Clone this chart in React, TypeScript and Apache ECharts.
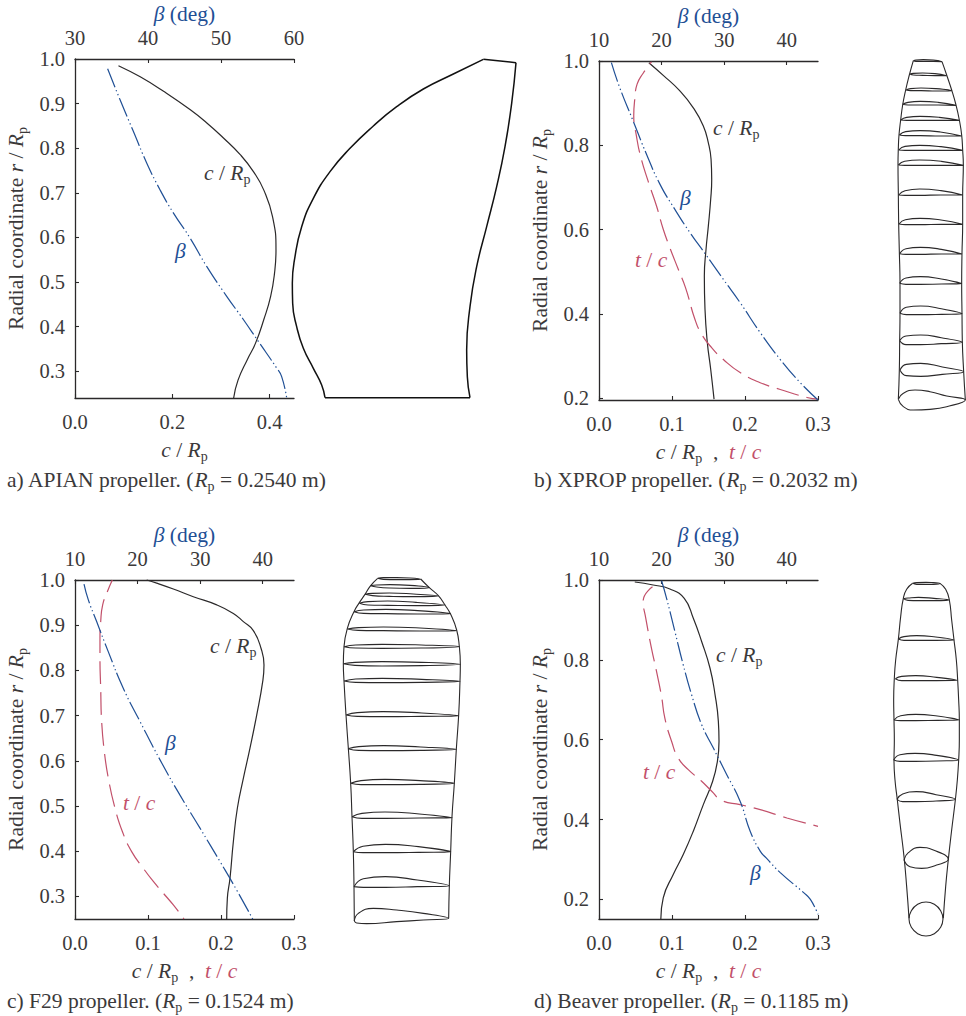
import React, { useEffect, useRef } from "react";
import * as echarts from "echarts";

type P = number[];
const INK = "#2b292a", BLUE = "#1f4f95", RED = "#c2506a", TXT = "#3b393a";
const FONT = "Liberation Serif";
const FS = 21.5;
const TICK_FS = 20.5;

// ---- panel a (APIAN)
const aChord: P[] = [[.0893,.985],[.134,.96],[.182,.9275],[.237,.886],[.2715,.856],[.305,.823],[.34,.785],[.367,.747],[.388,.706],[.406,.646],[.413,.572],[.41,.52],[.402,.468],[.388,.416],[.371,.363],[.354,.326],[.335,.28],[.326,.24]];
const aBeta: P[] = [[34.47,.978],[36.16,.909],[37.99,.838],[39.82,.767],[41.64,.707],[43.47,.655],[45.75,.599],[48.04,.535],[50.78,.468],[53.06,.416],[55.11,.367],[57.63,.307],[58.31,.288],[59,.24]];
// ---- panel b (XPROP)
const bChord: P[] = [[.0683,.996],[.088,.966],[.1108,.929],[.1292,.889],[.1429,.846],[.1498,.806],[.1535,.767],[.1544,.719],[.153,.672],[.1498,.609],[.1466,.553],[.1443,.49],[.1452,.411],[.1484,.332],[.153,.269],[.1576,.198]];
const bThick: P[] = [[.0719,.998],[.0605,.971],[.0522,.945],[.049,.909],[.0476,.87],[.0513,.822],[.0568,.775],[.0673,.715],[.0788,.656],[.088,.601],[.0971,.557],[.1086,.506],[.1186,.462],[.1315,.387],[.1406,.352],[.1544,.32],[.1704,.292],[.1933,.261],[.2208,.237],[.2483,.221],[.2849,.202],[.3,.198]];
const bBeta: P[] = [[11.98,.996],[13.31,.937],[15.45,.858],[17.59,.779],[19.73,.708],[22.13,.648],[24.54,.593],[27.21,.538],[29.88,.482],[32.55,.427],[35.76,.356],[38.97,.292],[42.17,.237],[45,.196]];
// ---- panel c (F29)
const cChord: P[] = [[.0982,1],[.1119,.993],[.1347,.98],[.1621,.963],[.1941,.945],[.2169,.926],[.2306,.908],[.2443,.888],[.2548,.849],[.2589,.812],[.2571,.775],[.2489,.701],[.2397,.628],[.2306,.561],[.2224,.495],[.2169,.421],[.2123,.34],[.2087,.296],[.2078,.25]];
const cThick: P[] = [[.0511,1],[.0443,.974],[.0379,.945],[.0352,.908],[.0342,.871],[.0342,.827],[.0352,.76],[.0365,.687],[.0402,.62],[.0457,.561],[.0548,.495],[.065,.443],[.0776,.399],[.0936,.362],[.1073,.333],[.121,.307],[.1347,.281],[.1493,.25]];
const cBeta: P[] = [[11.44,.991],[12.13,.956],[13.46,.908],[15.33,.841],[17.73,.76],[20.39,.687],[23.59,.602],[26.78,.524],[29.98,.451],[33.18,.377],[35.84,.314],[38.4,.25]];
// ---- panel d (Beaver)
const dChord: P[] = [[.049,.995],[.0742,.9875],[.0971,.9775],[.1168,.954],[.1292,.904],[.1406,.846],[.1521,.779],[.159,.7125],[.1635,.646],[.1644,.596],[.1622,.546],[.1557,.496],[.1429,.4375],[.1292,.371],[.1154,.3125],[.1017,.2625],[.088,.204],[.0847,.151]];
const dThick: P[] = [[.0733,.983],[.0605,.9475],[.0641,.904],[.0719,.829],[.0788,.771],[.0857,.708],[.0902,.654],[.0994,.596],[.1086,.554],[.1223,.525],[.1406,.496],[.1544,.471],[.1681,.448],[.1933,.4375],[.2208,.425],[.2574,.404],[.3,.383]];
const dBeta: P[] = [[20,.998],[20.8,.954],[22.13,.871],[23.47,.787],[24.8,.7125],[26.41,.6375],[28.28,.579],[30.42,.5125],[32.55,.446],[34.16,.371],[35.76,.321],[36.72,.304],[38.97,.267],[42.71,.217],[43.78,.2],[45,.1625]];

// ---- blade outlines (drawing units of each blade's own box)
const bladeAOutline: P[] = [[135,1043],[125,1005],[100,955],[70,895],[50,830],[38,760],[37,700],[45,620],[65,530],[100,445],[150,365],[210,295],[280,228],[350,170],[430,117],[520,72],[610,28]];
const bladeATip: P[] = [[610,28],[708,38]];
const bladeARight: P[] = [[708,38],[695,160],[675,290],[650,410],[620,530],[590,650],[570,770],[560,900],[562,980],[570,1043]];
const bladeARoot: P[] = [[570,1043],[135,1043]];

const bladeBLeft: P[] = [[100,62],[88,105],[77,150],[68,195],[62,240],[57,285],[55,325],[54,375],[55,460],[56,550],[58,635],[60,730],[60,820],[59,905],[58,990],[55,1078]];
const bladeBRight: P[] = [[186,65],[200,105],[215,150],[228,195],[238,240],[245,285],[248,330],[250,375],[248,465],[248,550],[246,640],[245,730],[246,820],[247,905],[251,995],[256,1080]];
const bladeBSections: P[][] = [
  [[100,62],[108,60],[130,59],[160,60],[186,65],[160,64],[130,64],[108,64],[100,62]],
  [[90,102],[100,100],[128,99],[165,101],[200,107],[165,107],[128,106],[100,105],[90,102]],
  [[78,150],[92,146],[123,144],[168,146],[215,152],[168,153],[123,152],[92,152],[78,150]],
  [[68,193],[84,187],[121,184],[174,187],[228,196],[174,195],[121,195],[84,195],[68,193]],
  [[62,240],[80,232],[120,229],[178,232],[238,241],[178,241],[120,241],[80,241],[62,240]],
  [[58,285],[77,275],[120,272],[181,276],[245,288],[181,288],[120,287],[77,287],[58,285]],
  [[56,330],[75,319],[119,316],[183,320],[248,331],[183,331],[119,331],[75,331],[56,330]],
  [[55,375],[74,364],[119,360],[184,364],[250,376],[184,376],[119,376],[74,376],[55,375]],
  [[56,465],[75,452],[119,447],[183,452],[248,465],[183,465],[119,466],[75,466],[56,465]],
  [[57,552],[76,539],[120,535],[183,540],[248,553],[183,553],[120,554],[76,554],[57,552]],
  [[59,641],[78,626],[121,622],[184,628],[246,642],[184,642],[121,643],[78,643],[59,641]],
  [[59,730],[78,714],[121,710],[184,717],[245,731],[184,732],[121,733],[78,733],[59,730]],
  [[60,820],[79,802],[122,798],[184,806],[246,821],[184,823],[122,824],[79,824],[60,820]],
  [[59,902],[78,888],[122,885],[184,893],[247,907],[184,911],[122,914],[78,914],[59,902]],
  [[60,990],[79,973],[122,970],[187,981],[251,995],[187,1003],[122,1009],[79,1007],[60,990]],
  [[55,1078],[70,1060],[105,1050],[150,1055],[200,1068],[256,1080],[200,1100],[150,1108],[100,1110],[70,1100],[55,1078]],
];

const bladeCLeft: P[] = [[143,40],[122,62],[105,88],[88,113],[72,140],[52,190],[42,245],[40,297],[42,348],[48,450],[55,550],[62,655],[66,755],[70,860],[72,965],[73,1068]];
const bladeCRight: P[] = [[272,42],[298,68],[325,92],[345,120],[362,148],[380,195],[388,245],[391,297],[390,348],[386,450],[379,552],[373,655],[366,755],[362,860],[358,962],[356,1060]];
const bladeCSections: P[][] = [
  [[143,40],[160,38],[200,38],[240,39],[272,43],[240,44],[200,44],[160,43],[143,40]],
  [[122,62],[140,60],[180,59],[240,61],[298,68],[240,70],[180,69],[140,66],[122,62]],
  [[105,88],[127,85],[178,84],[250,87],[325,93],[250,95],[178,94],[127,92],[105,88]],
  [[88,115],[114,110],[173,108],[258,112],[345,120],[258,122],[173,121],[114,120],[88,115]],
  [[72,140],[101,135],[168,133],[263,137],[362,146],[263,147],[168,146],[101,145],[72,140]],
  [[52,192],[85,188],[160,186],[270,189],[380,197],[270,198],[160,197],[85,196],[52,192]],
  [[42,245],[77,240],[156,238],[274,240],[388,245],[274,249],[156,250],[77,249],[42,245]],
  [[40,296],[75,292],[156,290],[275,292],[391,298],[275,302],[156,303],[75,301],[40,296]],
  [[42,348],[77,342],[157,340],[275,343],[390,349],[275,352],[157,353],[77,352],[42,348]],
  [[48,450],[82,443],[160,440],[275,444],[386,452],[275,454],[160,455],[82,454],[48,450]],
  [[54,551],[86,545],[161,542],[272,546],[379,553],[272,556],[161,557],[86,556],[54,551]],
  [[62,655],[93,647],[165,643],[270,647],[373,655],[270,658],[165,659],[93,659],[62,655]],
  [[66,755],[96,745],[165,741],[268,747],[366,758],[268,759],[165,760],[96,760],[66,755]],
  [[70,860],[99,844],[166,838],[265,845],[362,860],[265,862],[166,863],[99,863],[70,860]],
  [[72,965],[100,941],[166,935],[262,945],[358,962],[262,965],[166,967],[100,967],[72,965]],
  [[73,1068],[85,1045],[130,1030],[200,1035],[280,1045],[356,1060],[280,1065],[200,1070],[110,1076],[80,1074],[73,1068]],
];

const bladeDLeft: P[] = [[98,40],[80,58],[70,85],[62,140],[55,208],[47,270],[43,325],[41,390],[42,450],[43,510],[42,570],[45,630],[52,690],[60,760],[72,860],[80,950],[87,1045]];
const bladeDRight: P[] = [[180,40],[197,58],[208,90],[215,150],[222,210],[229,270],[233,330],[236,390],[238,450],[238,510],[236,570],[232,630],[226,690],[215,780],[205,868],[197,950],[190,1045]];
const bladeDSections: P[][] = [
  [[98,40],[110,38],[138,37],[160,38],[180,40],[160,43],[138,43],[110,43],[98,40]],
  [[70,86],[84,84],[115,82],[162,85],[208,90],[162,92],[115,92],[84,91],[70,86]],
  [[55,207],[72,200],[110,197],[167,201],[222,210],[167,211],[110,211],[72,211],[55,207]],
  [[46,326],[65,319],[107,317],[170,322],[232,331],[170,332],[107,332],[65,332],[46,326]],
  [[42,450],[62,437],[107,433],[172,438],[238,450],[172,451],[107,452],[62,452],[42,450]],
  [[41,570],[60,554],[105,550],[170,556],[236,570],[170,573],[105,574],[60,574],[41,570]],
  [[51,688],[68,672],[109,665],[168,674],[226,688],[168,693],[109,695],[68,695],[51,688]],
  [[72,870],[85,848],[120,832],[160,840],[205,868],[170,885],[125,895],[90,890],[72,870]],
  [[189,1047],[182,1072],[163,1091],[138,1098],[113,1091],[94,1072],[87,1047],[94,1022],[113,1003],[138,996],[163,1003],[182,1022],[189,1047]],
];

const rTicks = [[.3,.4,.5,.6,.7,.8,.9,1],[.2,.4,.6,.8,1],[.3,.4,.5,.6,.7,.8,.9,1],[.2,.4,.6,.8,1]];
const chordTicks = [[0,.2,.4],[0,.1,.2,.3],[0,.1,.2,.3],[0,.1,.2,.3]];
const betaTicks = [[30,40,50,60],[10,20,30,40],[10,20,30,40],[10,20,30,40]];
const rMin = [.24,.196,.25,.151];
const chordMax = [.45,.3,.3,.3];
const betaMin = [30,10,10,10];
const betaMax = [60,45,45,45];
const captions = ["a) APIAN propeller. (", "b) XPROP propeller. (", "c) F29 propeller. (", "d) Beaver propeller. ("];
const radii = ["0.2540", "0.2032", "0.1524", "0.1185"];
const redDashOffsets = [0, 20, 10, 6];

const panelBoxes = [
  { left: 75, top: 59, width: 219, height: 339 },
  { left: 599, top: 61, width: 219, height: 339 },
  { left: 75, top: 580, width: 219, height: 339 },
  { left: 599, top: 580, width: 219, height: 339 },
];
const bladeBoxes = [
  { left: 280, top: 50, width: 250, height: 360, w: 750, h: 1080 },
  { left: 880, top: 40, width: 86, height: 380, w: 258, h: 1140 },
  { left: 330, top: 565, width: 140, height: 365, w: 420, h: 1095 },
  { left: 880, top: 570, width: 86, height: 380, w: 258, h: 1140 },
];

const richAxis = (color: string) => ({
  n: { fontFamily: FONT, fontSize: FS, color },
  i: { fontFamily: FONT, fontSize: FS, fontStyle: "italic", color },
  s: { fontFamily: FONT, fontSize: 14, color, padding: [12, 0, 0, 0] },
  r: { fontFamily: FONT, fontSize: FS, fontStyle: "italic", color: RED },
  rn: { fontFamily: FONT, fontSize: FS, color: RED },
});
const richG = (fill: string) => ({
  n: { fontFamily: FONT, fontSize: FS, fill },
  i: { fontFamily: FONT, fontSize: FS, fontStyle: "italic", fill },
  s: { fontFamily: FONT, fontSize: 14, fill, padding: [12, 0, 0, 0] },
});
const label = (x: number, y: number, text: string, fill: string) => ({
  type: "text", x, y, silent: true,
  style: { text, rich: richG(fill), fontFamily: FONT, fontSize: FS, fill, verticalAlign: "middle", align: "left" },
});
const CR = "{i|c}{n| / }{i|R}{s|p}";
const TC = "{i|t}{n| / }{i|c}";
const BT = "{i|β}";

const annotations = [
  label(204, 173, CR, TXT), label(175, 251, BT, BLUE),
  label(713, 128, CR, TXT), label(680, 198, BT, BLUE), label(635, 260, TC, RED),
  label(210, 646, CR, TXT), label(165, 743, BT, BLUE), label(123, 803, TC, RED),
  label(716, 655, CR, TXT), label(750, 873, BT, BLUE), label(643, 772, TC, RED),
];
const capPos = [[7, 480], [534, 480], [7, 1001], [534, 1001]];
const captionEls = captions.map((c, i) =>
  label(capPos[i][0], capPos[i][1], `{n|${c}}{i|R}{s|p}{n| = ${radii[i]} m)}`, TXT));

const line = (xi: number, yi: number, data: P[], color: string, type: any, width = 1.2, dashOffset = 0) => ({
  type: "line", xAxisIndex: xi, yAxisIndex: yi, data, symbol: "none", smooth: 0.5, silent: true,
  clip: false,
  lineStyle: { color, width, type, cap: "butt", dashOffset },
});
const DASHDOT = [20, 3, 1.3, 3, 1.3, 3];
const DASH = [23, 8];

function buildOption() {
  const grid: any[] = [...panelBoxes, ...bladeBoxes].map(({ left, top, width, height }) => ({ left, top, width, height, containLabel: false }));
  const xAxis: any[] = [];
  const yAxis: any[] = [];
  const axisLine = { show: true, onZero: false, lineStyle: { color: INK, width: 1.3 } };
  const labelStyle = { color: TXT, fontFamily: FONT, fontSize: TICK_FS };
  panelBoxes.forEach((_, i) => {
    const xName = i === 0 ? CR : `${CR}{n|  ,  }{r|t}{rn| / }{r|c}`;
    xAxis.push({
      gridIndex: i, type: "value", position: "bottom", min: 0, max: chordMax[i],
      axisLine, splitLine: { show: false },
      axisTick: { show: true, inside: true, length: 4, customValues: chordTicks[i], lineStyle: { color: INK, width: 1.1 } },
      axisLabel: { ...labelStyle, margin: 13, customValues: chordTicks[i], formatter: (v: number) => v.toFixed(1) },
      name: xName, nameLocation: "middle", nameGap: 39, nameTextStyle: { rich: richAxis(TXT) },
    });
    xAxis.push({
      gridIndex: i, type: "value", position: "top", min: betaMin[i], max: betaMax[i],
      axisLine, splitLine: { show: false },
      axisTick: { show: true, inside: true, length: 4, customValues: betaTicks[i], lineStyle: { color: INK, width: 1.1 } },
      axisLabel: { ...labelStyle, margin: 11, customValues: betaTicks[i], formatter: (v: number) => String(v) },
      name: `${BT}{n| (deg)}`, nameLocation: "middle", nameGap: 34, nameTextStyle: { rich: richAxis(BLUE) },
    });
    yAxis.push({
      gridIndex: i, type: "value", position: "left", min: rMin[i], max: 1,
      axisLine, splitLine: { show: false },
      axisTick: { show: true, inside: true, length: 4, customValues: rTicks[i], lineStyle: { color: INK, width: 1.1 } },
      axisLabel: { ...labelStyle, margin: 10, customValues: rTicks[i], formatter: (v: number) => v.toFixed(1) },
      name: `{n|Radial coordinate }{i|r}{n| / }{i|R}{s|p}`, nameLocation: "middle", nameGap: 46, nameRotate: 90,
      nameTextStyle: { rich: richAxis(TXT) },
    });
  });
  bladeBoxes.forEach((b, i) => {
    xAxis.push({ gridIndex: 4 + i, type: "value", show: false, min: 0, max: b.w });
    yAxis.push({ gridIndex: 4 + i, type: "value", show: false, min: 0, max: b.h, inverse: true });
  });
  const curves = [
    [aChord, null, aBeta], [bChord, bThick, bBeta], [cChord, cThick, cBeta], [dChord, dThick, dBeta],
  ];
  const series: any[] = [];
  curves.forEach(([ch, th, be], i) => {
    series.push(line(2 * i, i, ch as P[], INK, "solid"));
    if (th) series.push(line(2 * i, i, th as P[], RED, DASH, 1.2, redDashOffsets[i]));
    series.push(line(2 * i + 1, i, be as P[], BLUE, DASHDOT));
  });
  const bladeX = (i: number) => 8 + i;
  const bladeY = (i: number) => 4 + i;
  const B = 1.1;
  [bladeAOutline, bladeATip, bladeARight, bladeARoot].forEach((d) =>
    series.push(line(bladeX(0), bladeY(0), d, "#111", "solid", 1.5)));
  [bladeBLeft, bladeBRight, ...bladeBSections].forEach((d) =>
    series.push(line(bladeX(1), bladeY(1), d, INK, "solid", B)));
  [bladeCLeft, bladeCRight, ...bladeCSections].forEach((d) =>
    series.push(line(bladeX(2), bladeY(2), d, INK, "solid", B)));
  [bladeDLeft, bladeDRight, ...bladeDSections].forEach((d) =>
    series.push(line(bladeX(3), bladeY(3), d, INK, "solid", B)));
  return {
    animation: false,
    backgroundColor: "#fff",
    grid, xAxis, yAxis, series,
    graphic: { elements: [...annotations, ...captionEls] },
  };
}

export default function App() {
  const ref = useRef<HTMLDivElement>(null);
  useEffect(() => {
    document.body.style.margin = "0";
    const chart = echarts.init(ref.current!, undefined, { renderer: "svg", width: 966, height: 1016 });
    chart.setOption(buildOption() as any);
    return () => chart.dispose();
  }, []);
  return <div ref={ref} style={{ width: 966, height: 1016 }} />;
}
